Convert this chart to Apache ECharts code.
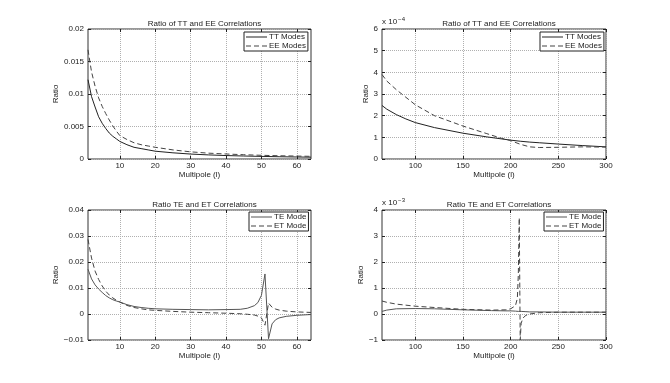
<!DOCTYPE html>
<html>
<head>
<meta charset="utf-8">
<script src="https://cdn.jsdelivr.net/npm/echarts@6/dist/echarts.min.js"></script>
<style>
  html, body { margin: 0; padding: 0; background: #fff; }
  #main { width: 670px; height: 383px; }
</style>
</head>
<body>
<div id="main"></div>
<script>
// Panel 1: low multipoles, TT / EE ratio
const lowL = [1, 2, 3, 4, 5, 6, 7, 8, 9, 10, 12, 14, 16, 18, 20, 25, 30, 35, 40, 45, 50, 55, 60, 64];
const ttLow = [0.0122, 0.0096, 0.0080, 0.0065, 0.0055, 0.0047, 0.0040, 0.0035, 0.0031, 0.0027, 0.0022, 0.0018, 0.0016, 0.0014, 0.0012, 0.00095, 0.00076, 0.00063, 0.00053, 0.00046, 0.0004, 0.00035, 0.00031, 0.00028];
const eeLow = [0.0168, 0.0134, 0.0112, 0.0094, 0.0081, 0.0070, 0.0060, 0.0051, 0.0043, 0.0036, 0.0030, 0.0025, 0.0022, 0.0020, 0.0018, 0.0014, 0.0011, 0.0009, 0.00077, 0.00066, 0.00057, 0.0005, 0.00045, 0.00041];

// Panel 2: high multipoles, TT / EE ratio (units of 1e-4)
const highL = [65, 70, 80, 90, 100, 120, 150, 175, 190, 200, 210, 220, 230, 250, 275, 300];
const ttHigh = [2.47, 2.3, 2.05, 1.85, 1.68, 1.45, 1.19, 1.02, 0.93, 0.87, 0.82, 0.78, 0.75, 0.69, 0.62, 0.56];
const eeHigh = [3.9, 3.6, 3.2, 2.85, 2.5, 2.0, 1.52, 1.17, 0.96, 0.85, 0.68, 0.56, 0.53, 0.54, 0.56, 0.55];

// Panel 3: low multipoles, TE / ET ratio
const lowL2 = [1, 2, 3, 4, 5, 6, 7, 8, 9, 10, 12, 14, 16, 18, 20, 25, 30, 35, 40, 44, 46, 48, 49, 50, 51, 52, 53, 54, 55, 57, 60, 64];
const teLow = [0.0172, 0.0135, 0.0112, 0.0096, 0.0083, 0.0071, 0.0062, 0.0055, 0.0050, 0.0046, 0.0036, 0.0029, 0.0025, 0.0022, 0.0020, 0.0018, 0.0017, 0.0016, 0.0017, 0.0018, 0.0022, 0.0032, 0.0044, 0.0072, 0.0154, -0.0095, -0.0038, -0.0022, -0.0015, -0.0009, -0.0005, -0.0002];
const etLow = [0.0287, 0.0215, 0.0165, 0.0133, 0.0108, 0.0088, 0.0073, 0.0062, 0.0053, 0.0046, 0.0033, 0.0025, 0.0020, 0.0016, 0.0014, 0.0010, 0.0007, 0.0005, 0.0003, 0.0001, -0.0001, -0.0004, -0.0008, -0.0015, -0.0043, 0.0042, 0.0026, 0.0019, 0.0015, 0.0011, 0.0008, 0.0006];

// Panel 4: high multipoles, TE / ET ratio (units of 1e-3)
const highL2 = [65, 70, 80, 100, 120, 150, 180, 195, 200, 205, 207, 208, 209, 210, 211, 213, 216, 220, 230, 250, 300];
const teHigh = [0.1, 0.15, 0.2, 0.21, 0.2, 0.16, 0.13, 0.12, 0.12, 0.11, 0.11, 0.1, 0.12, 0.1, 0.1, 0.09, 0.09, 0.08, 0.08, 0.07, 0.07];
const etHigh = [0.5, 0.45, 0.38, 0.3, 0.25, 0.18, 0.15, 0.16, 0.2, 0.32, 0.6, 1.5, 3.7, -1.0, -0.35, -0.15, -0.05, 0, 0.05, 0.07, 0.07];

const lowTicks = [10, 20, 30, 40, 50, 60];
const highTicks = [100, 150, 200, 250, 300];

const titles = ['Ratio of TT and EE Correlations', 'Ratio of TT and EE Correlations', 'Ratio TE and ET Correlations', 'Ratio TE and ET Correlations'];

const FONT = 'Liberation Sans';
const INK = '#222';
const SOLID_ICON = 'path://M0,0H21V1H0Z';
const DASH_ICON = 'path://M0,0H5V1H0Z M8,0H13V1H8Z M16,0H21V1H16Z';

const chart = echarts.init(document.getElementById('main'));

const pair = (xs, ys) => xs.map((x, i) => [x, ys[i]]);
const minus = v => String(v).replace('-', '\u2212');

// grid boxes (px)
const boxes = [
    { left: 88, top: 29, width: 223, height: 130 },
    { left: 382, top: 29, width: 224, height: 130 },
    { left: 88, top: 210, width: 223, height: 130 },
    { left: 382, top: 210, width: 224, height: 130 }
];
const xRanges = [[1, 64, lowTicks], [65, 300, highTicks], [1, 64, lowTicks], [65, 300, highTicks]];
const yRanges = [[0, 0.02, 0.005, 25], [0, 6, 1, 8], [-0.01, 0.04, 0.01, 27], [-1, 4, 1, 12]];

function xAxisFor(idx, top) {
    const [min, max, ticks] = xRanges[idx];
    return {
        gridIndex: idx, type: 'value', min: min, max: max, position: top ? 'top' : 'bottom',
        name: top ? '' : 'Multipole (l)', nameLocation: 'middle', nameGap: 11,
        nameTextStyle: { fontFamily: FONT, fontSize: 8, color: INK },
        axisLine: { show: false, onZero: false },
        axisTick: { inside: true, length: 3, customValues: ticks, lineStyle: { color: INK } },
        axisLabel: { show: !top, customValues: ticks, fontFamily: FONT, fontSize: 8, color: INK, margin: 3 },
        splitLine: { show: !top, lineStyle: { type: 'dotted', color: '#b0b0b0' } }
    };
}

function yAxisFor(idx, right) {
    const [min, max, interval, gap] = yRanges[idx];
    return {
        gridIndex: idx, type: 'value', min: min, max: max, interval: interval,
        position: right ? 'right' : 'left',
        name: right ? '' : 'Ratio', nameLocation: 'middle', nameGap: gap,
        nameTextStyle: { fontFamily: FONT, fontSize: 8, color: INK },
        axisLine: { show: false, onZero: false },
        axisTick: { inside: true, length: 3, lineStyle: { color: INK } },
        axisLabel: { show: !right, fontFamily: FONT, fontSize: 8, color: INK, margin: 4, formatter: minus },
        splitLine: { show: !right, lineStyle: { type: 'dotted', color: '#b0b0b0' } }
    };
}

function lineSeries(name, idx, data, dashed, color) {
    return {
        name: name, type: 'line', xAxisIndex: idx, yAxisIndex: idx,
        data: data, symbol: 'none', silent: true,
        lineStyle: { width: 1, color: color, type: dashed ? [5, 3] : 'solid' },
        itemStyle: { color: color }
    };
}

function legendFor(left, top, names) {
    return {
        left: left, top: top, orient: 'vertical',
        data: [
            { name: names[0], icon: SOLID_ICON },
            { name: names[1], icon: DASH_ICON }
        ],
        backgroundColor: '#fff', borderColor: INK, borderWidth: 1,
        padding: [1, 2, 1, 2], itemGap: 1, itemWidth: 21, itemHeight: 1,
        textStyle: { fontFamily: FONT, fontSize: 8, color: INK, padding: [0, 0, 0, -3] },
        selectedMode: false
    };
}

const exponent = (top, txt) => ({
    type: 'text', left: 382, top: top,
    style: {
        text: 'x 10{s|' + txt + '}', font: '8px "Liberation Sans"', fill: INK,
        rich: { s: { fontSize: 6, fontFamily: FONT, verticalAlign: 'top', padding: [0, 0, 5, 1] } }
    }
});

const option = {
    animation: false,
    backgroundColor: '#fff',
    title: boxes.map((b, i) => ({
        text: titles[i], left: b.left + b.width / 2, top: i < 2 ? 15 : 196, textAlign: 'center',
        textStyle: { fontFamily: FONT, fontSize: 8, fontWeight: 'normal', color: INK }
    })),
    grid: boxes.map(b => Object.assign({
        show: true, borderColor: '#333', borderWidth: 1, backgroundColor: 'transparent',
        containLabel: false, outerBoundsMode: 'none'
    }, b)),
    legend: [
        legendFor(244, 32, ['TT Modes', 'EE Modes']),
        legendFor(540, 32, ['TT Modes', 'EE Modes']),
        legendFor(249, 212, ['TE Mode', 'ET Mode']),
        legendFor(544, 212, ['TE Mode', 'ET Mode'])
    ],
    xAxis: [0, 1, 2, 3].map(i => xAxisFor(i, false)).concat([0, 1, 2, 3].map(i => xAxisFor(i, true))),
    yAxis: [0, 1, 2, 3].map(i => yAxisFor(i, false)).concat([0, 1, 2, 3].map(i => yAxisFor(i, true))),
    graphic: [exponent(16, '\u22124'), exponent(197, '\u22123')],
    series: [
        lineSeries('TT Modes', 0, pair(lowL, ttLow), false, '#222'),
        lineSeries('EE Modes', 0, pair(lowL, eeLow), true, '#444'),
        lineSeries('TT Modes', 1, pair(highL, ttHigh), false, '#222'),
        lineSeries('EE Modes', 1, pair(highL, eeHigh), true, '#444'),
        lineSeries('TE Mode', 2, pair(lowL2, teLow), false, '#555'),
        lineSeries('ET Mode', 2, pair(lowL2, etLow), true, '#444'),
        lineSeries('TE Mode', 3, pair(highL2, teHigh), false, '#555'),
        lineSeries('ET Mode', 3, pair(highL2, etHigh), true, '#444')
    ]
};

chart.setOption(option);
</script>
</body>
</html>
